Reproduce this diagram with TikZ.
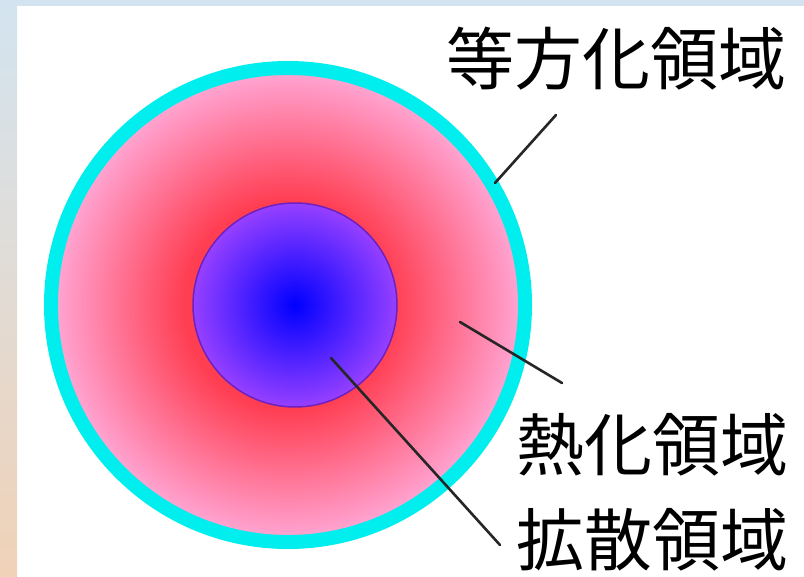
\documentclass[tikz,border=0pt]{standalone}
\usepackage{fontspec}
\newfontfamily\jpfont{Noto Sans CJK JP}
\usetikzlibrary{positioning}

\definecolor{frametop}{RGB}{211,228,240}
\definecolor{framebot}{RGB}{240,210,184}
\definecolor{ringcyan}{RGB}{0,238,238}
\definecolor{thermred}{RGB}{255,62,82}
\definecolor{thermpink}{RGB}{255,168,215}
\definecolor{diffblue}{RGB}{0,0,255}
\definecolor{diffviolet}{RGB}{150,64,255}
\definecolor{diffedge}{RGB}{112,32,190}

% red core fading to pink at the rim
\pgfdeclareradialshading{thermal}{\pgfpoint{0bp}{0bp}}{%
  color(0bp)=(thermred); color(11bp)=(thermred);
  color(25bp)=(thermpink); color(50bp)=(thermpink)}

\tikzset{
  region/.style={font=\jpfont\fontsize{68}{76}\selectfont, inner sep=0pt, anchor=west},
  leader/.style={line width=2.6pt, line cap=round, black!85}
}

\begin{document}
\begin{tikzpicture}[x=1pt,y=-1pt]
  \useasboundingbox (0,0) rectangle (804,577);
  % frame
  \fill[white] (0,0) rectangle (804,577);
  \fill[frametop] (0,0) rectangle (804,6);
  \shade[top color=frametop, bottom color=framebot] (0,0) rectangle (17,577);

  % regions
  \shade[shading=thermal] (288,305) circle[radius=237];
  \draw[ringcyan, line width=14pt] (288,305) circle[radius=237];
  \shade[inner color=diffblue, outer color=diffviolet] (295,305) circle[radius=102];
  \draw[diffedge, line width=1.5pt] (295,305) circle[radius=102];

  % labels
  \node[region] (iso) at (446,59) {等方化領域};
  \node[region] (therm) at (516,445) {熱化領域};
  \node[region] (diff) at (516,540) {拡散領域};

  \coordinate (isoend) at (495,183);
  \coordinate (isotip) at (556,115);
  \coordinate (thermend) at (460,322);
  \coordinate (thermtip) at (562,383);
  \coordinate (diffend) at (331,358);
  \coordinate (difftip) at (500,545);

  \draw[leader] (isoend) -- (isotip);
  \draw[leader] (thermend) -- (thermtip);
  \draw[leader] (diffend) -- (difftip);
\end{tikzpicture}
\end{document}
